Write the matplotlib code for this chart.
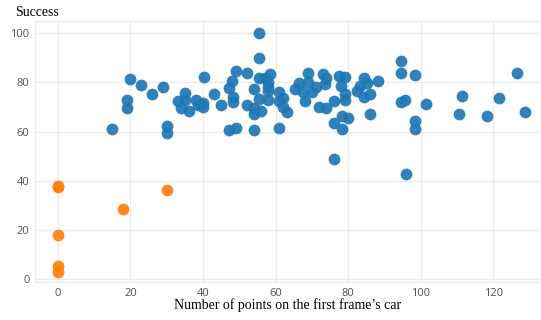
import numpy as np
import matplotlib
matplotlib.use("Agg")
import matplotlib.pyplot as plt

# points
blue_x = [15, 19, 19, 20, 23, 26, 29, 30, 30, 33, 34, 35, 35, 36, 38, 38.5,
          40, 40, 40.3, 43, 45, 47.2, 48, 48.3, 48.3, 47.2, 49, 49, 52, 52,
          54, 54, 54, 54, 55.3, 55.3, 55.3, 55.3, 56, 57, 58.5, 58, 58, 58, 58,
          61, 61, 61, 62, 62, 63, 65.3, 66.4, 67.5, 68, 69, 69, 70, 71, 72,
          73, 74, 73.6, 74, 76, 77.5, 79, 78, 79, 79, 76, 78.3, 80, 78.3, 76,
          82.5, 83.3, 84.4, 85.3, 86, 84.4, 86, 88.3, 94.4, 94.4, 94.4, 95.6,
          98.3, 96, 98.3, 98.3, 101.4, 110.5, 111.4, 118.3, 121.4, 126.4, 128.6]
blue_y = [61, 73, 69.5, 81.2, 79, 75.5, 78, 62.4, 59.3, 72.4, 69.7, 75.8, 72.8,
          68.3, 73, 71, 70, 71.5, 82.4, 75.5, 71, 77.8, 80.4, 74, 72.2, 60.8,
          61.3, 84.5, 84, 71, 77.4, 69.7, 67.2, 60.8, 100, 90, 82, 73.2, 68.5,
          81.8, 83.6, 80, 78, 76.5, 73, 76, 72.6, 61.3, 73.5, 70, 68, 77.5,
          79.6, 76, 72.6, 84, 80, 76.3, 78, 70, 83.5, 82, 79.4, 69.7, 72.5,
          82.8, 82.4, 78.4, 75.5, 73, 63.5, 66.5, 65.7, 61, 49, 76.7, 78.4, 82,
          79.6, 75.5, 74, 67.2, 80.4, 88.8, 83.7, 72.2, 73, 82.9, 42.8, 64.5,
          61.2, 71.4, 67.3, 74.3, 66.5, 73.5, 83.7, 67.8]

orange_x = [0, 0, 0, 0, 0, 18, 30]
orange_y = [37.3, 37.8, 18.1, 5.4, 3.0, 28.5, 36.3]

x_ticks = [0, 20, 40, 60, 80, 100, 120]
y_ticks = [0, 20, 40, 60, 80, 100]

GRID = "#ebebeb"
TICK_COLOR = "#505050"

fig = plt.figure(figsize=(5.41, 3.2), dpi=100)
ax = fig.add_axes([35 / 541, 1 - 282 / 320, 506 / 541, 261 / 320])

ax.scatter(blue_x, blue_y, s=72, color="#1f77b4", alpha=0.92,
           linewidths=0, zorder=3)
ax.scatter(orange_x, orange_y, s=72, color="#ff7f0e", alpha=0.92,
           linewidths=0, zorder=3)

ax.set_xlim(-6.3, 133.1)
ax.set_ylim(-1.2, 105)
ax.set_xticks(x_ticks)
ax.set_yticks(y_ticks)
ax.grid(True, color=GRID, linewidth=1)
ax.set_axisbelow(True)
ax.tick_params(length=0, labelsize=8, colors=TICK_COLOR, pad=4)
for lab in ax.get_xticklabels() + ax.get_yticklabels():
    lab.set_fontfamily("Open Sans")

for side in ["top", "bottom", "left"]:
    ax.spines[side].set_color(GRID)
    ax.spines[side].set_linewidth(1)
ax.spines["right"].set_visible(False)

fig.text(15 / 541, 1 - 12 / 320, "Success", fontsize=10,
         family="Liberation Serif", va="center", ha="left")
fig.text(288 / 541, 1 - 305 / 320, "Number of points on the first frame\u2019s car",
         fontsize=10, family="Liberation Serif", va="center", ha="center")

fig.savefig("out.png", dpi=100)
